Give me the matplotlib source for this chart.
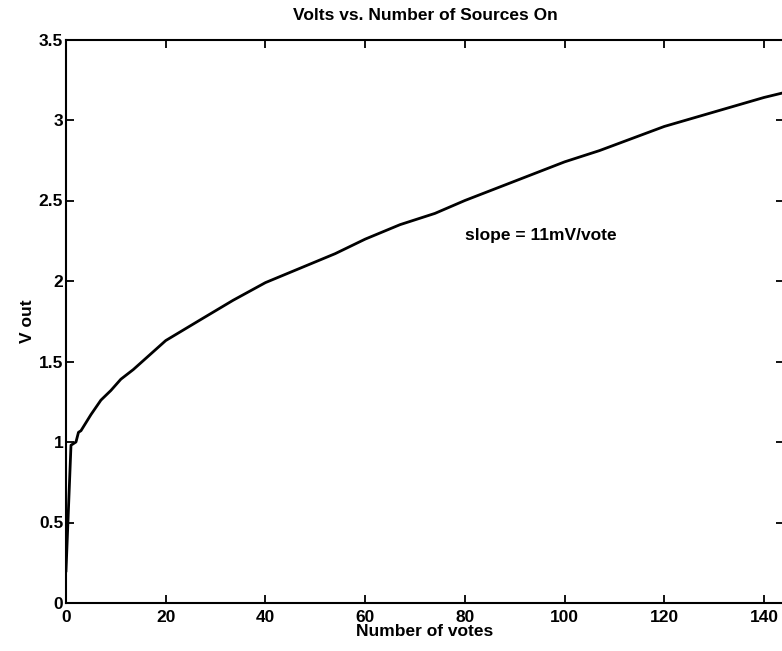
import matplotlib.pyplot as plt

# Значения
votes = [0, 1, 2, 2.5, 3, 5, 7, 9, 11, 13.5, 20, 27, 33.5, 40, 47, 54, 60,
         67, 74, 80, 90, 100, 107, 120, 130, 140, 144]
vout = [0.2, 0.98, 1.0, 1.06, 1.07, 1.17, 1.26, 1.32, 1.39, 1.45, 1.63, 1.76,
        1.88, 1.99, 2.08, 2.17, 2.26, 2.35, 2.42, 2.50, 2.62, 2.74, 2.81,
        2.96, 3.05, 3.14, 3.17]
xticks = [0, 20, 40, 60, 80, 100, 120, 140]
yticks = [0, 0.5, 1, 1.5, 2, 2.5, 3, 3.5]
yticklabels = ['0', '0.5', '1', '1.5', '2', '2.5', '3', '3.5']

plt.rcParams['font.family'] = ['Liberation Sans', 'DejaVu Sans']
plt.rcParams['font.weight'] = 'bold'

fig = plt.figure(figsize=(7.82, 6.51), dpi=100)
ax = fig.add_axes([66 / 782, 48 / 651, (784 - 66) / 782, (603 - 39.5) / 651])

ax.plot(votes, vout, color='black', linewidth=2)
ax.set_xlim(0, 144)
ax.set_ylim(0, 3.5)
ax.set_xticks(xticks)
ax.set_yticks(yticks, yticklabels)
ax.tick_params(direction='in', length=6, width=1.3, top=True, right=True,
               labelsize=12.5)
ax.tick_params(axis='x', pad=5)
ax.tick_params(axis='y', pad=2)
for s in ax.spines.values():
    s.set_linewidth(1.5)

ax.set_title('Volts vs. Number of Sources On', fontsize=12.5, fontweight='bold', pad=14)
ax.set_xlabel('Number of votes', fontsize=12.5, fontweight='bold', labelpad=-1)
ax.set_ylabel('V out', fontsize=12.5, fontweight='bold', labelpad=3)
ax.text(80, 2.285, 'slope = 11mV/vote', fontsize=12.5, fontweight='bold',
        ha='left', va='center')

fig.savefig('out.png', dpi=100)
